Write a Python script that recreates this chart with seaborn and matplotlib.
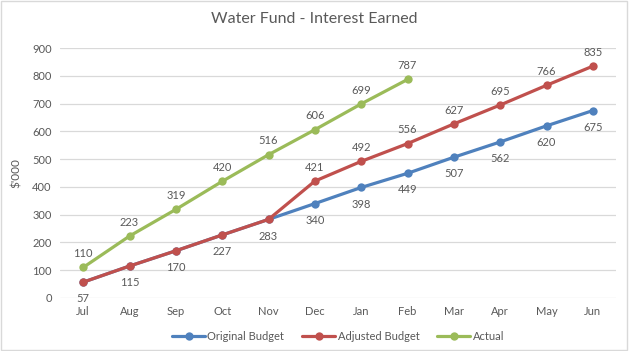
import matplotlib
matplotlib.use("Agg")
import matplotlib.pyplot as plt
import seaborn as sns
import pandas as pd

# chart data
months = ["Jul", "Aug", "Sep", "Oct", "Nov", "Dec", "Jan", "Feb", "Mar", "Apr", "May", "Jun"]
original_budget = [57, 115, 170, 227, 283, 340, 398, 449, 507, 562, 620, 675]
adjusted_budget = [57, 115, 170, 227, 283, 421, 492, 556, 627, 695, 766, 835]
actual = [110, 223, 319, 420, 516, 606, 699, 787]
y_ticks = [0, 100, 200, 300, 400, 500, 600, 700, 800, 900]

series = ["Original Budget", "Adjusted Budget", "Actual"]
colors = {"Original Budget": "#4F81BD", "Adjusted Budget": "#C0504D", "Actual": "#9BBB59"}

rows = []
for name, vals in zip(series, [original_budget, adjusted_budget, actual]):
    for m, v in zip(months, vals):
        rows.append({"Month": m, "Value": v, "Series": name})
df = pd.DataFrame(rows)
df["Month"] = pd.Categorical(df["Month"], categories=months, ordered=True)
df["x"] = df["Month"].cat.codes

sns.set_theme(style="white")
plt.rcParams["font.family"] = ["Lato", "DejaVu Sans"]
text_col = "#595959"
fs = 8

fig = plt.figure(figsize=(6.29, 3.51), dpi=100)
ax = fig.add_axes([0.0954, 0.151, 0.884, 0.712])

sns.lineplot(data=df, x="x", y="Value", hue="Series", hue_order=series,
             palette=colors, marker="o", markersize=6, markeredgewidth=0,
             linewidth=2.3, ax=ax, legend=True)

# data labels
for i, v in enumerate(original_budget):
    ax.annotate(str(v), (i, v), xytext=(0, -8), textcoords="offset points",
                ha="center", va="top", fontsize=fs, color=text_col)
for i, v in enumerate(adjusted_budget):
    if v != original_budget[i]:
        ax.annotate(str(v), (i, v), xytext=(0, 6), textcoords="offset points",
                    ha="center", va="bottom", fontsize=fs, color=text_col)
for i, v in enumerate(actual):
    ax.annotate(str(v), (i, v), xytext=(0, 6), textcoords="offset points",
                ha="center", va="bottom", fontsize=fs, color=text_col)

ax.set_xlim(-0.5, len(months) - 0.5)
ax.set_ylim(0, 900)
ax.set_xticks(range(len(months)))
ax.set_xticklabels(months)
ax.set_yticks(y_ticks)
ax.tick_params(axis="both", labelsize=fs, colors=text_col, length=0, pad=6)
ax.grid(axis="y", color="#D9D9D9", linewidth=0.9)
ax.set_axisbelow(True)
for s in ax.spines.values():
    s.set_visible(False)
ax.set_xlabel("")
ax.set_ylabel("$'000", fontsize=fs + 0.5, color=text_col, labelpad=7)

fig.suptitle("Water Fund - Interest Earned", y=0.965, fontsize=11.5, color=text_col)

handles, labels = ax.get_legend_handles_labels()
ax.legend(handles, labels, loc="lower center", bbox_to_anchor=(0.5, -0.215),
          ncol=3, frameon=False, fontsize=fs, labelcolor=text_col,
          handlelength=3, handletextpad=0.2, columnspacing=1.6)

# outer chart border
fig.patches.append(plt.Rectangle((0.002, 0.003), 0.995, 0.993, transform=fig.transFigure,
                                 fill=False, edgecolor="#D9D9D9", linewidth=1))

fig.savefig("out.png", dpi=100)
